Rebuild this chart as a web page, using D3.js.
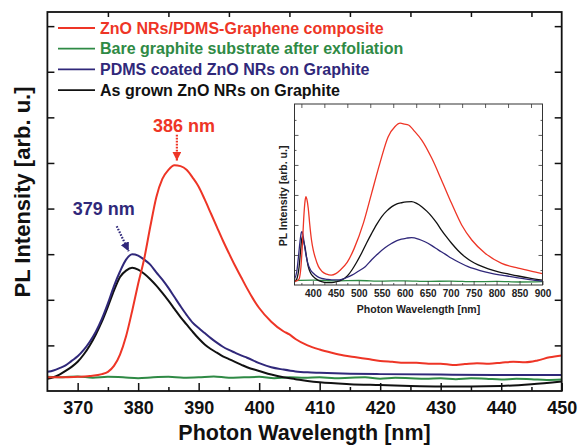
<!DOCTYPE html>
<html>
<head>
<meta charset="utf-8">
<script src="https://cdn.jsdelivr.net/npm/d3@7"></script>
<style>
	html, body { margin: 0; padding: 0; background: #fff; }
	svg { display: block; font-family: "Liberation Sans", Arial, sans-serif; font-weight: bold; }
</style>
</head>
<body>
<svg id="chart" width="579" height="446"></svg>
<script>
'use strict';

// series names, legend order
const seriesNames = [
	'ZnO NRs/PDMS-Graphene composite',
	'Bare graphite substrate after exfoliation',
	'PDMS coated ZnO NRs on Graphite',
	'As grown ZnO NRs on Graphite'
];
const seriesColours = ['#ee3526', '#2f8a45', '#30287a', '#111111'];

// main panel, [wavelength nm, intensity arb. u.]
const redMain = [
	[365,0.30],[368,0.30],[370,0.31],[372,0.33],[374,0.37],[375,0.42],[376,0.55],[377,0.80],[378,1.20],
	[379,1.75],[380,2.35],[381,2.90],[382,3.60],[383,4.25],[384,4.65],[385,4.85],[386,4.95],[387,4.93],
	[388,4.85],[389,4.68],[390,4.48],[391,4.20],[392,3.90],[393,3.60],[394,3.30],[395,3.02],[396,2.75],
	[397,2.50],[398,2.25],[399,2.02],[400,1.82],[402,1.52],[404,1.31],[405,1.24],[406,1.14],[408,1.00],
	[410,0.91],[412,0.84],[414,0.78],[416,0.74],[418,0.70],[420,0.66],[422,0.64],[424,0.62],[426,0.62],
	[428,0.60],[430,0.60],[432,0.57],[434,0.59],[436,0.61],[438,0.60],[440,0.62],[442,0.64],[444,0.63],
	[446,0.67],[448,0.74],[450,0.78]
];
const greenMain = [
	[365,0.31],[367.5,0.30],[370,0.32],[372.5,0.29],[375,0.31],[377.5,0.30],[380,0.28],[382.5,0.30],
	[385,0.31],[387.5,0.29],[390,0.30],[392.5,0.32],[395,0.29],[397.5,0.30],[400,0.31],[402.5,0.28],
	[405,0.30],[407.5,0.29],[410,0.30],[412.5,0.28],[415,0.29],[417.5,0.30],[420,0.27],[422.5,0.29],
	[425,0.28],[427.5,0.27],[430,0.28],[432.5,0.26],[435,0.28],[437.5,0.27],[440,0.25],[442.5,0.27],
	[445,0.26],[447.5,0.24],[450,0.25]
];
const navyMain = [
	[365,0.42],[366,0.45],[367,0.50],[368,0.56],[369,0.66],[370,0.76],[371,0.90],[372,1.08],[373,1.30],
	[374,1.58],[375,1.92],[376,2.30],[377,2.62],[378,2.88],[379,3.00],[380,2.97],[381,2.88],[382,2.77],
	[383,2.60],[384,2.44],[385,2.26],[386,2.06],[387,1.86],[388,1.67],[389,1.50],[390,1.38],[391,1.27],
	[392,1.16],[393,1.06],[394,0.97],[395,0.90],[396,0.84],[397,0.78],[398,0.73],[400,0.61],[402,0.52],
	[404,0.47],[406,0.43],[408,0.41],[410,0.40],[415,0.38],[420,0.37],[430,0.36],[440,0.35],[450,0.35]
];
const blackMain = [
	[365,0.27],[366,0.30],[367,0.36],[368,0.44],[369,0.53],[370,0.64],[371,0.80],[372,1.00],[373,1.24],
	[374,1.52],[375,1.85],[376,2.20],[377,2.50],[378,2.64],[379,2.70],[380,2.66],[381,2.57],[382,2.45],
	[383,2.31],[384,2.15],[385,1.98],[386,1.80],[387,1.62],[388,1.46],[389,1.30],[390,1.15],[391,1.02],
	[392,0.92],[393,0.84],[394,0.76],[395,0.70],[396,0.64],[397,0.58],[398,0.52],[400,0.44],[402,0.36],
	[404,0.30],[406,0.26],[408,0.22],[410,0.19],[415,0.15],[420,0.13],[425,0.11],[430,0.10],[435,0.10],
	[440,0.11],[445,0.15],[450,0.21]
];

// inset panel, full range
const redInset = [
	[360,0.12],[365,0.14],[370,0.20],[374,0.60],[377,1.30],[380,2.20],[383,2.80],[385,2.94],[387,2.85],
	[390,2.55],[393,2.05],[397,1.50],[401,1.15],[405,0.92],[412,0.62],[420,0.45],[430,0.36],[440,0.33],
	[450,0.38],[460,0.50],[475,0.76],[490,1.22],[510,2.06],[528,3.06],[546,4.06],[564,4.94],[579,5.28],
	[590,5.39],[600,5.36],[608,5.33],[622,5.11],[637,4.83],[659,4.22],[680,3.50],[702,2.72],[724,2.00],
	[746,1.50],[775,1.06],[811,0.72],[847,0.56],[875,0.46],[900,0.38]
];
const greenInset = [
	[360,0.15],[400,0.16],[450,0.14],[500,0.15],[550,0.13],[600,0.14],[650,0.12],[700,0.13],
	[750,0.11],[800,0.12],[850,0.10],[900,0.11]
];
const navyInset = [
	[360,0.20],[365,0.45],[369,1.00],[372,1.45],[375,1.75],[376.5,1.78],[379,1.62],[381,1.39],[385,1.00],
	[389,0.72],[395,0.50],[401,0.39],[410,0.28],[419,0.22],[430,0.19],[441,0.17],[452,0.17],[463,0.19],
	[474,0.25],[485,0.33],[499,0.46],[514,0.61],[528,0.84],[543,1.06],[557,1.24],[572,1.39],[583,1.48],
	[593,1.53],[604,1.56],[615,1.58],[630,1.53],[644,1.44],[659,1.31],[673,1.17],[688,1.03],[702,0.89],
	[720,0.74],[738,0.61],[764,0.48],[789,0.39],[818,0.31],[847,0.24],[872,0.18],[900,0.13]
];
const blackInset = [
	[360,0.10],[365,0.20],[370,0.60],[373,1.10],[376,1.55],[377.5,1.61],[380,1.45],[383,1.25],[386,0.95],
	[390,0.61],[395,0.40],[401,0.28],[410,0.17],[419,0.11],[430,0.08],[441,0.08],[452,0.11],[463,0.17],
	[475,0.30],[485,0.50],[495,0.75],[506,1.06],[517,1.40],[528,1.72],[539,2.02],[550,2.28],[561,2.47],
	[572,2.61],[583,2.70],[593,2.74],[604,2.77],[615,2.78],[626,2.72],[637,2.61],[648,2.46],[659,2.28],
	[670,2.06],[680,1.83],[691,1.60],[702,1.39],[716,1.15],[731,0.94],[745,0.79],[760,0.67],[782,0.54],
	[804,0.44],[825,0.37],[847,0.30],[872,0.23],[900,0.16]
];

// ticks
const mainXTicks = [370,380,390,400,410,420,430,440,450];
const mainXMinor = [375,385,395,405,415,425,435,445];
const mainYTicks = [1,2,3,4,5,6,7,8];
const insetXTicks = [400,450,500,550,600,650,700,750,800,850,900];
const insetXMinor = [375,425,475,525,575,625,675,725,775,825,875];
const insetYTicks = [1,2,3,4,5];
const insetYMinor = [0.5,1.5,2.5,3.5,4.5,5.5];

// peak annotations
const peakLabels = ['386 nm', '379 nm'];
const peakNm = [386.4, 379.1];
const peakValue = [4.96, 3.0];
const peakColours = ['#ee3526', '#30287a'];

const svg = d3.select('#chart');

const main = {left: 47.4, right: 561.7, top: 12, bottom: 391};
const x = d3.scaleLinear().domain([365, 450]).range([main.left, main.right]);
const y = d3.scaleLinear().domain([0, 8.31]).range([main.bottom, main.top]);

const mainSeries = [redMain, greenMain, navyMain, blackMain];
// draw order: green under, red on top of the rest
const drawOrder = [1, 3, 2, 0];

const line = d3.line()
	.x(d => x(d[0]))
	.y(d => y(d[1]))
	.curve(d3.curveMonotoneX);

svg.append('defs').selectAll('marker')
	.data(peakColours)
	.enter().append('marker')
		.attr('id', (d, i) => 'arrow' + i)
		.attr('viewBox', '0 0 10 10')
		.attr('refX', 10)
		.attr('refY', 5)
		.attr('markerWidth', 4)
		.attr('markerHeight', 4)
		.attr('markerUnits', 'strokeWidth')
		.attr('orient', 'auto')
	.append('path')
		.attr('d', 'M0,0 L10,5 L0,10 z')
		.attr('fill', d => d);

// main curves
svg.append('g').attr('class', 'lines')
	.selectAll('path')
	.data(drawOrder)
	.enter().append('path')
		.attr('d', i => line(mainSeries[i]))
		.attr('fill', 'none')
		.attr('stroke', i => seriesColours[i])
		.attr('stroke-width', 2)
		.attr('stroke-linejoin', 'round');

// axes, ticks point inwards
function styleAxis(g){
	g.select('.domain').remove();
	g.selectAll('line').attr('stroke', '#111').attr('stroke-width', 1.5);
}

svg.append('g')
	.attr('transform', 'translate(0,' + main.bottom + ')')
	.call(d3.axisBottom(x).tickValues(mainXTicks).tickSize(-8).tickPadding(10).tickFormat(d3.format('d')))
	.call(styleAxis)
	.call(g => g.selectAll('text')
		.attr('fill', '#111')
		.style('font-size', '18px')
		.style('font-family', '"Liberation Sans", Arial, sans-serif')
		.style('font-weight', 'bold'));
svg.append('g')
	.attr('transform', 'translate(0,' + main.bottom + ')')
	.call(d3.axisBottom(x).tickValues(mainXMinor).tickSize(-4).tickFormat(''))
	.call(styleAxis);
svg.append('g')
	.attr('transform', 'translate(0,' + main.top + ')')
	.call(d3.axisTop(x).tickValues(mainXMinor).tickSize(-5).tickFormat(''))
	.call(styleAxis);
svg.append('g')
	.attr('transform', 'translate(' + main.left + ',0)')
	.call(d3.axisLeft(y).tickValues(mainYTicks).tickSize(-7).tickFormat(''))
	.call(styleAxis);
svg.append('g')
	.attr('transform', 'translate(' + main.right + ',0)')
	.call(d3.axisRight(y).tickValues(mainYTicks).tickSize(-7).tickFormat(''))
	.call(styleAxis);

svg.append('rect')
	.attr('x', main.left)
	.attr('y', main.top)
	.attr('width', main.right - main.left)
	.attr('height', main.bottom - main.top)
	.attr('fill', 'none')
	.attr('stroke', '#111')
	.attr('stroke-width', 1.8);

// axis titles
svg.append('text')
	.attr('x', (main.left + main.right) / 2)
	.attr('y', 440)
	.attr('text-anchor', 'middle')
	.attr('fill', '#111')
	.style('font-size', '21.5px')
	.text('Photon Wavelength [nm]');
svg.append('text')
	.attr('transform', 'translate(30,' + 192 + ') rotate(-90)')
	.attr('text-anchor', 'middle')
	.attr('fill', '#111')
	.style('font-size', '22px')
	.text('PL Intensity [arb. u.]');

// legend
const legend = svg.append('g').attr('class', 'legend')
	.selectAll('g')
	.data(seriesNames)
	.enter().append('g')
		.attr('transform', (d, i) => 'translate(0,' + (28 + i * 20.7) + ')');
legend.append('line')
	.attr('x1', 58).attr('x2', 95)
	.attr('stroke', (d, i) => seriesColours[i])
	.attr('stroke-width', 1.8);
legend.append('text')
	.attr('x', 100)
	.attr('y', 5.6)
	.attr('fill', (d, i) => seriesColours[i])
	.style('font-size', '16px')
	.text(d => d);

// peak arrows and labels
const peakArrow = [
	// [dx tail, dy tail, dx tip, dy tip] relative to the peak
	[0, -30, 0, -4],
	[-16, -28, -4, -3]
];
const peakText = [[-24, -33], [-60, -39]];
const peaks = svg.append('g').attr('class', 'peaks')
	.selectAll('g')
	.data(peakLabels)
	.enter().append('g')
		.attr('transform', (d, i) => 'translate(' + x(peakNm[i]) + ',' + y(peakValue[i]) + ')');
peaks.append('line')
	.attr('x1', (d, i) => peakArrow[i][0])
	.attr('y1', (d, i) => peakArrow[i][1])
	.attr('x2', (d, i) => peakArrow[i][2])
	.attr('y2', (d, i) => peakArrow[i][3])
	.attr('stroke', (d, i) => peakColours[i])
	.attr('stroke-width', 2.2)
	.attr('stroke-dasharray', '1.6,1.4')
	.attr('marker-end', (d, i) => 'url(#arrow' + i + ')');
peaks.append('text')
	.attr('x', (d, i) => peakText[i][0])
	.attr('y', (d, i) => peakText[i][1])
	.attr('fill', (d, i) => peakColours[i])
	.style('font-size', '18px')
	.text(d => d);

// inset
const inset = {left: 294.5, right: 542.5, top: 104, bottom: 285};
const xi = d3.scaleLinear().domain([360, 900]).range([inset.left, inset.right]);
const yi = d3.scaleLinear().domain([0, 6.03]).range([inset.bottom, inset.top]);
const insetSeries = [redInset, greenInset, navyInset, blackInset];

const gi = svg.append('g').attr('class', 'inset');
gi.append('rect')
	.attr('x', inset.left)
	.attr('y', inset.top)
	.attr('width', inset.right - inset.left)
	.attr('height', inset.bottom - inset.top)
	.attr('fill', '#fff');

const lineInset = d3.line()
	.x(d => xi(d[0]))
	.y(d => yi(d[1]))
	.curve(d3.curveMonotoneX);

gi.append('g')
	.selectAll('path')
	.data(drawOrder)
	.enter().append('path')
		.attr('d', i => lineInset(insetSeries[i]))
		.attr('fill', 'none')
		.attr('stroke', i => seriesColours[i])
		.attr('stroke-width', 1.3);

function styleInsetAxis(g){
	g.select('.domain').remove();
	g.selectAll('line').attr('stroke', '#333').attr('stroke-width', 0.8);
}

gi.append('g')
	.attr('transform', 'translate(0,' + inset.bottom + ')')
	.call(d3.axisBottom(xi).tickValues(insetXTicks).tickSize(-4).tickPadding(5).tickFormat(d3.format('d')))
	.call(styleInsetAxis)
	.call(g => g.selectAll('text')
		.attr('fill', '#222')
		.style('font-size', '10px')
		.style('font-family', '"Liberation Sans", Arial, sans-serif')
		.style('font-weight', 'bold'));
gi.append('g')
	.attr('transform', 'translate(0,' + inset.bottom + ')')
	.call(d3.axisBottom(xi).tickValues(insetXMinor).tickSize(-2).tickFormat(''))
	.call(styleInsetAxis);
gi.append('g')
	.attr('transform', 'translate(0,' + inset.top + ')')
	.call(d3.axisTop(xi).tickValues(insetXMinor).tickSize(-4).tickFormat(''))
	.call(styleInsetAxis);
[[d3.axisLeft, inset.left], [d3.axisRight, inset.right]].forEach(a => {
	gi.append('g')
		.attr('transform', 'translate(' + a[1] + ',0)')
		.call(a[0](yi).tickValues(insetYTicks).tickSize(-4).tickFormat(''))
		.call(styleInsetAxis);
	gi.append('g')
		.attr('transform', 'translate(' + a[1] + ',0)')
		.call(a[0](yi).tickValues(insetYMinor).tickSize(-2).tickFormat(''))
		.call(styleInsetAxis);
});

gi.append('rect')
	.attr('x', inset.left)
	.attr('y', inset.top)
	.attr('width', inset.right - inset.left)
	.attr('height', inset.bottom - inset.top)
	.attr('fill', 'none')
	.attr('stroke', '#333')
	.attr('stroke-width', 1);

gi.append('text')
	.attr('x', (inset.left + inset.right) / 2)
	.attr('y', 313)
	.attr('text-anchor', 'middle')
	.attr('fill', '#222')
	.style('font-size', '10.5px')
	.text('Photon Wavelength [nm]');
gi.append('text')
	.attr('transform', 'translate(287,' + 196 + ') rotate(-90)')
	.attr('text-anchor', 'middle')
	.attr('fill', '#222')
	.style('font-size', '10.5px')
	.text('PL Intensity [arb. u.]');
</script>
</body>
</html>
